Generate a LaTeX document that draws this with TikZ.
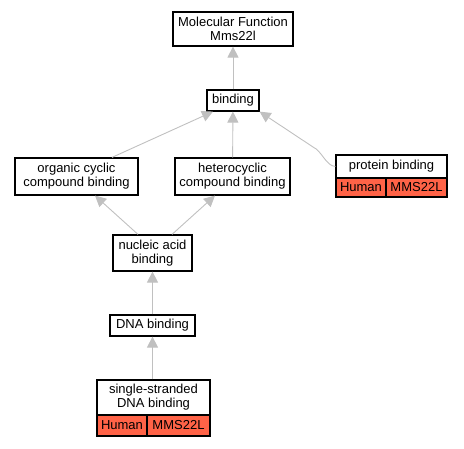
\documentclass[tikz,border=0pt]{standalone}
\usepackage{fontspec}
\setmainfont{Liberation Sans}
\usetikzlibrary{arrows.meta}
\definecolor{edgegray}{HTML}{C0C0C0}
\definecolor{orgred}{HTML}{FF6347}
\tikzset{
  term/.style={draw=black,line width=1.2pt,fill=white,align=center,inner sep=0pt,
    font=\fontsize{13}{14}\selectfont},
  cell/.style={term,fill=orgred},
  edge/.style={draw=edgegray,line width=0.9pt,-{Triangle[length=11pt,width=11pt]}}
}
\begin{document}
\begin{tikzpicture}[x=1pt,y=-1pt]
\useasboundingbox (0,0) rectangle (464,448);
% terms
\node[term,minimum width=120pt,minimum height=34pt] (mf) at (233,29) {Molecular Function\\Mms22l};
\node[term,minimum width=52pt,minimum height=21pt] (bi) at (233,100.5) {binding};
\node[term,minimum width=123pt,minimum height=37pt] (oc) at (76.5,176.5) {organic cyclic\\compound binding};
\node[term,minimum width=115pt,minimum height=37pt] (hc) at (232.5,176.5) {heterocyclic\\compound binding};
\node[term,minimum width=79pt,minimum height=36pt] (na) at (152.5,253) {nucleic acid\\binding};
\node[term,minimum width=85pt,minimum height=21pt] (dna) at (152.5,325.5) {DNA binding};
% annotated terms
\node[term,minimum width=111pt,minimum height=23pt] (pb) at (391.5,166.5) {protein binding};
\node[cell,minimum width=50pt,minimum height=19pt] (pbh) at (361,187.5) {Human};
\node[cell,minimum width=61pt,minimum height=19pt] (pbg) at (416.5,187.5) {MMS22L};
\node[term,minimum width=113pt,minimum height=35pt] (ss) at (153.5,397.5) {single-stranded\\DNA binding};
\node[cell,minimum width=50pt,minimum height=21pt] (ssh) at (122,425.5) {Human};
\node[cell,minimum width=63pt,minimum height=21pt] (ssg) at (178.5,425.5) {MMS22L};
% edges
\draw[edge] (bi) -- (mf);
\draw[edge] (oc.north -| 112,0) -- (bi.south west -| 213,0);
\draw[edge] (hc) -- (bi);
\draw[edge] (pb.west) .. controls (326,166) and (322,151) .. (313,147) -- (bi.south east);
\draw[edge] (na.north -| 138,0) -- (oc.south -| 95,0);
\draw[edge] (na.north -| 172,0) -- (hc.south -| 215,0);
\draw[edge] (dna) -- (na);
\draw[edge] (ss.north -| dna) -- (dna);
\end{tikzpicture}
\end{document}
